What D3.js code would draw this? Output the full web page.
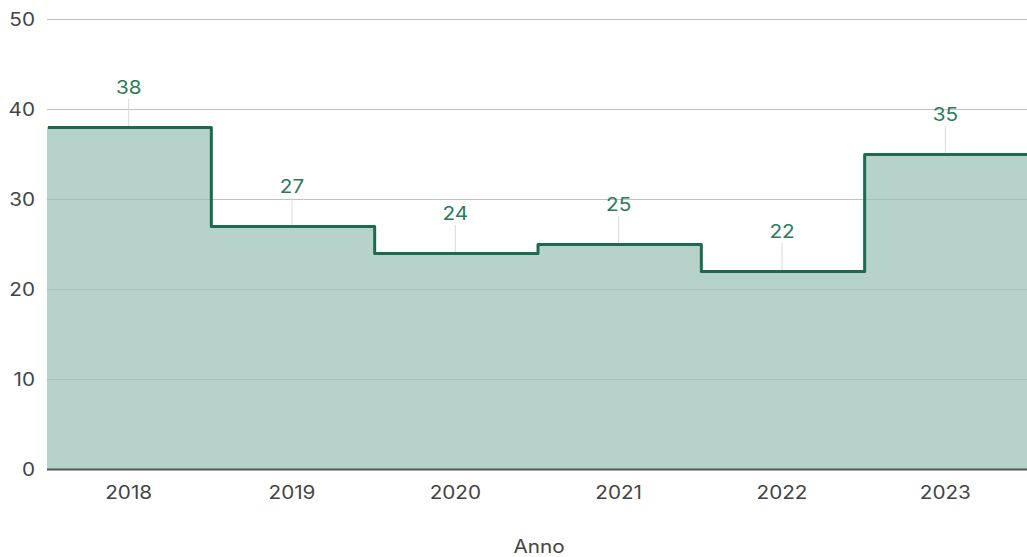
<!DOCTYPE html>
<html>
<head>
<meta charset="utf-8">
<script src="https://cdn.jsdelivr.net/npm/d3@7"></script>
<style>
  html, body { margin: 0; padding: 0; background: #fff; }
  svg { display: block; font-family: Inter, Roboto, "Noto Sans", sans-serif; }
</style>
</head>
<body>
<svg id="chart" width="1027" height="557"></svg>
<script>
// Annual values shown as a stepped area
const years = ["2018", "2019", "2020", "2021", "2022", "2023"];
const values = [38, 27, 24, 25, 22, 35];
const yTicks = [0, 10, 20, 30, 40, 50];
const xTitle = "Anno";

const W = 1027, H = 557;
const margin = { top: 19, right: 0, bottom: 88, left: 47 };
const svg = d3.select("#chart");
const textStretch = 1.15; // wide lettering

const x = d3.scaleBand().domain(years).range([margin.left, W - margin.right]).padding(0);
const y = d3.scaleLinear().domain([0, 50]).range([H - margin.bottom, margin.top]);

// Step points: each year holds its value across its band, closed at the right edge
const steps = years.map((yr, i) => ({ x: x(yr), v: values[i] }));
steps.push({ x: x.range()[1], v: values[values.length - 1] });

// Light grid behind the area
svg.append("g")
  .selectAll("line")
  .data(yTicks.filter(d => d > 0))
  .join("line")
  .attr("x1", margin.left).attr("x2", W - margin.right)
  .attr("y1", d => y(d) + 0.5).attr("y2", d => y(d) + 0.5)
  .attr("stroke", "#dcdcdc").attr("stroke-width", 1);

const area = d3.area()
  .x(d => d.x).y0(y(0)).y1(d => y(d.v))
  .curve(d3.curveStepAfter);

svg.append("path")
  .datum(steps)
  .attr("d", area)
  .attr("fill", "#b7d2cb");

// Grid lines visible through the fill
svg.append("g")
  .selectAll("line")
  .data(yTicks.filter(d => d > 0))
  .join("line")
  .attr("x1", margin.left).attr("x2", W - margin.right)
  .attr("y1", d => y(d) + 0.5).attr("y2", d => y(d) + 0.5)
  .attr("stroke", "#7f9f96").attr("stroke-opacity", 0.35).attr("stroke-width", 1);

// Leader lines from labels down to the step
const labelOffset = 38;
svg.append("g")
  .selectAll("line")
  .data(years)
  .join("line")
  .attr("x1", d => x(d) + x.bandwidth() / 2)
  .attr("x2", d => x(d) + x.bandwidth() / 2)
  .attr("y1", (d, i) => y(values[i]) - labelOffset + 10)
  .attr("y2", (d, i) => y(values[i]))
  .attr("stroke", "#d9d9d9").attr("stroke-width", 1);

const line = d3.line()
  .x(d => d.x).y(d => y(d.v))
  .curve(d3.curveStepAfter);

svg.append("path")
  .datum(steps)
  .attr("transform", "translate(1,0.5)")
  .attr("d", line)
  .attr("fill", "none")
  .attr("stroke", "#1d6b4f")
  .attr("stroke-width", 3)
  .attr("stroke-linejoin", "round");

// Baseline
svg.append("line")
  .attr("x1", margin.left).attr("x2", W - margin.right)
  .attr("y1", y(0) + 0.5).attr("y2", y(0) + 0.5)
  .attr("stroke", "#4f5b57").attr("stroke-width", 2);

// Value labels
svg.append("g")
  .selectAll("text")
  .data(years)
  .join("text")
  .attr("transform", (d, i) =>
    `translate(${x(d) + x.bandwidth() / 2},${y(values[i]) - labelOffset}) scale(${textStretch},1)`)
  .attr("text-anchor", "middle")
  .attr("dominant-baseline", "middle")
  .attr("fill", "#2b7a5a")
  .attr("font-size", 18)
  .text((d, i) => values[i]);

// Y axis labels
const yAxis = d3.axisLeft(y).tickValues(yTicks).tickSize(0).tickPadding(0);
const gy = svg.append("g").attr("transform", `translate(${margin.left - 12},1)`).call(yAxis);
gy.select(".domain").remove();
gy.selectAll("text")
  .attr("x", 0)
  .attr("transform", `scale(${textStretch},1)`)
  .attr("font-size", 18).attr("fill", "#444").attr("font-family", "Inter, Roboto, sans-serif");

// X axis labels
const xAxis = d3.axisBottom(x).tickSize(0).tickPadding(17);
const gx = svg.append("g").attr("transform", `translate(0,${y(0)})`).call(xAxis);
gx.select(".domain").remove();
gx.selectAll("text")
  .attr("transform", `scale(${textStretch},1)`)
  .attr("font-size", 18).attr("fill", "#444").attr("font-family", "Inter, Roboto, sans-serif");

// Axis title
svg.append("text")
  .attr("transform", `translate(${(margin.left + W) / 2 + 2},548) scale(${textStretch},1)`)
  .attr("text-anchor", "middle")
  .attr("dominant-baseline", "middle")
  .attr("fill", "#444")
  .attr("font-size", 18)
  .text(xTitle);
</script>
</body>
</html>
